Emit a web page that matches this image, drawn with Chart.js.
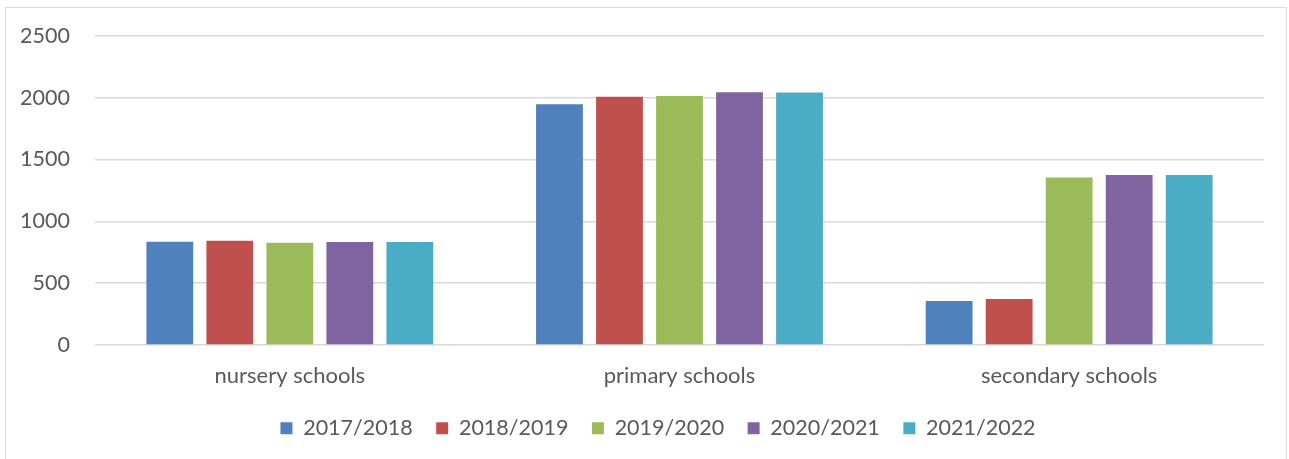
<!DOCTYPE html>
<html>
<head>
<meta charset="utf-8">
<script src="https://cdn.jsdelivr.net/npm/chart.js@4"></script>
<style>
  html, body { margin: 0; padding: 0; background: #fff; overflow: hidden; }
  #box { position: absolute; left: 5px; top: 7px; width: 1280px; height: 470px; border: 1px solid #d9d9d9; }
  #wrap { position: relative; width: 1280px; height: 462px; margin-top: -10px; }
</style>
</head>
<body>
<div id="box"><div id="wrap"><canvas id="schoolsChart"></canvas></div></div>
<script>
// categories and yearly values
const categories = ['nursery schools', 'primary schools', 'secondary schools'];
const years = ['2017/2018', '2018/2019', '2019/2020', '2020/2021', '2021/2022'];
const y2017 = [836, 1948, 355];
const y2018 = [844, 2007, 373];
const y2019 = [828, 2013, 1355];
const y2020 = [834, 2045, 1374];
const y2021 = [834, 2043, 1374];
const yTicks = [0, 500, 1000, 1500, 2000, 2500];

const colors = ['#4F81BD', '#C0504D', '#9BBB59', '#8064A2', '#4BACC6'];
const series = [y2017, y2018, y2019, y2020, y2021];

// nudge the legend a bit to the right, like the original
const legendNudge = {
    id: 'legendNudge',
    afterLayout(chart) {
        chart.legend.left += 23;
        chart.legend.right += 23;
    }
};

const ctx = document.getElementById('schoolsChart').getContext('2d');
const schoolsChart = new Chart(ctx, {
    type: 'bar',
    data: {
        labels: categories,
        datasets: years.map((y, i) => ({
            label: y,
            data: series[i],
            backgroundColor: colors[i],
            borderWidth: 0,
            barPercentage: 0.78,
            categoryPercentage: 0.77
        }))
    },
    plugins: [legendNudge],
    options: {
        responsive: true,
        maintainAspectRatio: false,
        animation: false,
        layout: { padding: { top: 0, right: 22, left: 0, bottom: 11 } },
        plugins: {
            tooltip: { enabled: false },
            legend: {
                position: 'bottom',
                labels: {
                    font: { family: 'Lato', size: 21.5 },
                    color: '#595959',
                    boxWidth: 12,
                    boxHeight: 12,
                    padding: 23.5
                }
            }
        },
        scales: {
            x: {
                grid: { display: false },
                border: { display: false },
                ticks: { font: { family: 'Lato', size: 22 }, color: '#595959', padding: 10 },
                afterFit: (scale) => { scale.height = 49; }
            },
            y: {
                min: 0,
                max: 2500,
                afterBuildTicks: (scale) => { scale.ticks = yTicks.map(v => ({ value: v })); },
                grid: { color: '#d9d9d9', lineWidth: 1.5, drawTicks: false },
                border: { display: false },
                ticks: {
                    font: { family: 'Lato', size: 21.5 },
                    color: '#595959',
                    padding: 25,
                    callback: (v) => String(v)
                },
                afterFit: (scale) => { scale.width = 89; }
            }
        }
    }
});
</script>
</body>
</html>
